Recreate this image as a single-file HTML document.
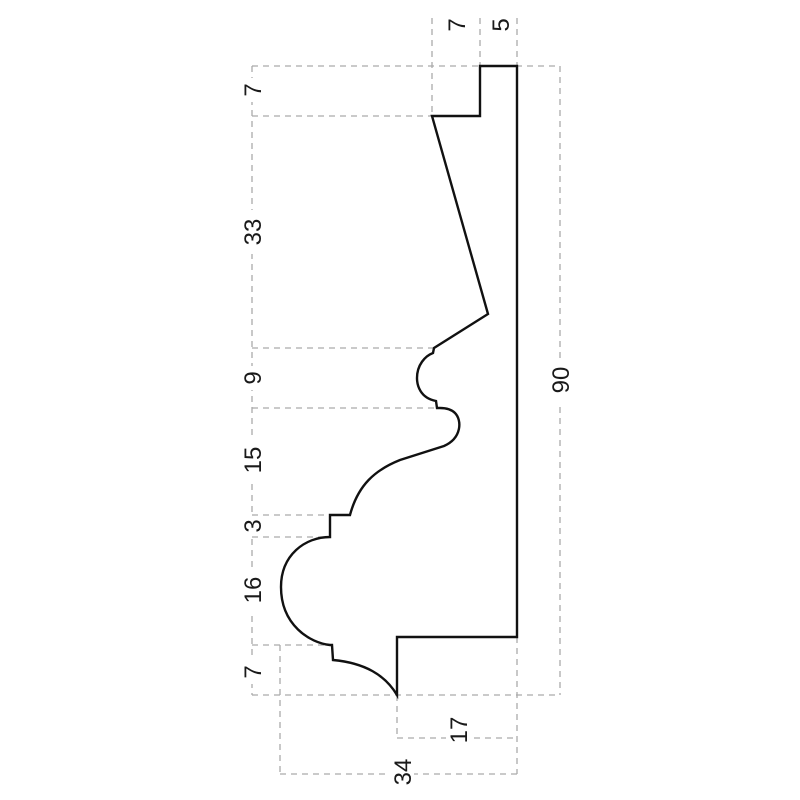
<!DOCTYPE html>
<html><head><style>html,body{margin:0;padding:0;background:#fff;}svg{display:block}</style></head>
<body>
<svg width="800" height="800" viewBox="0 0 800 800" xmlns="http://www.w3.org/2000/svg">
<g stroke="#aaa" stroke-width="1.3" stroke-dasharray="6,5" fill="none">
  <line x1="252" y1="66" x2="252" y2="695"/>
  <line x1="252" y1="66" x2="560" y2="66"/>
  <line x1="252" y1="116" x2="432" y2="116"/>
  <line x1="252" y1="348" x2="434" y2="348"/>
  <line x1="252" y1="408" x2="438" y2="408"/>
  <line x1="252" y1="515" x2="350" y2="515"/>
  <line x1="252" y1="537" x2="330" y2="537"/>
  <line x1="252" y1="645" x2="330" y2="645"/>
  <line x1="252" y1="695" x2="560" y2="695"/>
  <line x1="560" y1="66" x2="560" y2="695"/>
  <line x1="432" y1="18" x2="432" y2="116"/>
  <line x1="480" y1="18" x2="480" y2="66"/>
  <line x1="517" y1="18" x2="517" y2="66"/>
  <line x1="280" y1="645" x2="280" y2="774"/>
  <line x1="397" y1="695" x2="397" y2="738"/>
  <line x1="517" y1="637" x2="517" y2="774"/>
  <line x1="397" y1="738" x2="517" y2="738"/>
  <line x1="280" y1="774" x2="517" y2="774"/>
</g>
<path d="M480,66 L517,66 L517,637 L397,637 L397,695 C385,675 365,663 333,660 L332,645 L330,645 C310,643 281,625 281,587 C281,555 305,537 330,537 L330,515 L350,515 C358,485 375,470 400,460 L444,446 C462,438 462,420 455,413 C450,408 443,408 440,408 L437,408 L436,401 C420,398 417,385 417,378 C417,365 425,356 433,353 L434,348 L488,314 L432,116 L480,116 Z" fill="none" stroke="#111" stroke-width="2.4" stroke-linejoin="miter"/>
<g font-family="Liberation Sans, sans-serif" font-size="24" fill="#1a1a1a" text-anchor="middle">
  <rect x="240" y="78" width="24" height="24" fill="#fff"/><text transform="translate(261,90) rotate(-90)">7</text>
  <rect x="240" y="210" width="24" height="44" fill="#fff"/><text transform="translate(261,232) rotate(-90)">33</text>
  <rect x="240" y="366" width="24" height="24" fill="#fff"/><text transform="translate(261,378) rotate(-90)">9</text>
  <rect x="240" y="438" width="24" height="44" fill="#fff"/><text transform="translate(261,460) rotate(-90)">15</text>
  <rect x="240" y="516" width="24" height="20" fill="#fff"/><text transform="translate(261,526) rotate(-90)">3</text>
  <rect x="240" y="568" width="24" height="44" fill="#fff"/><text transform="translate(261,590) rotate(-90)">16</text>
  <rect x="240" y="660" width="24" height="24" fill="#fff"/><text transform="translate(261,672) rotate(-90)">7</text>
  <rect x="548" y="358" width="24" height="44" fill="#fff"/><text transform="translate(569,380) rotate(-90)">90</text>
  <text transform="translate(465,25) rotate(-90)">7</text>
  <text transform="translate(509,25) rotate(-90)">5</text>
  <rect x="446" y="716" width="24" height="44" fill="#fff"/><text transform="translate(467,730) rotate(-90)">17</text>
  <rect x="390" y="752" width="24" height="44" fill="#fff"/><text transform="translate(411,772) rotate(-90)">34</text>
</g>
</svg>
</body></html>
